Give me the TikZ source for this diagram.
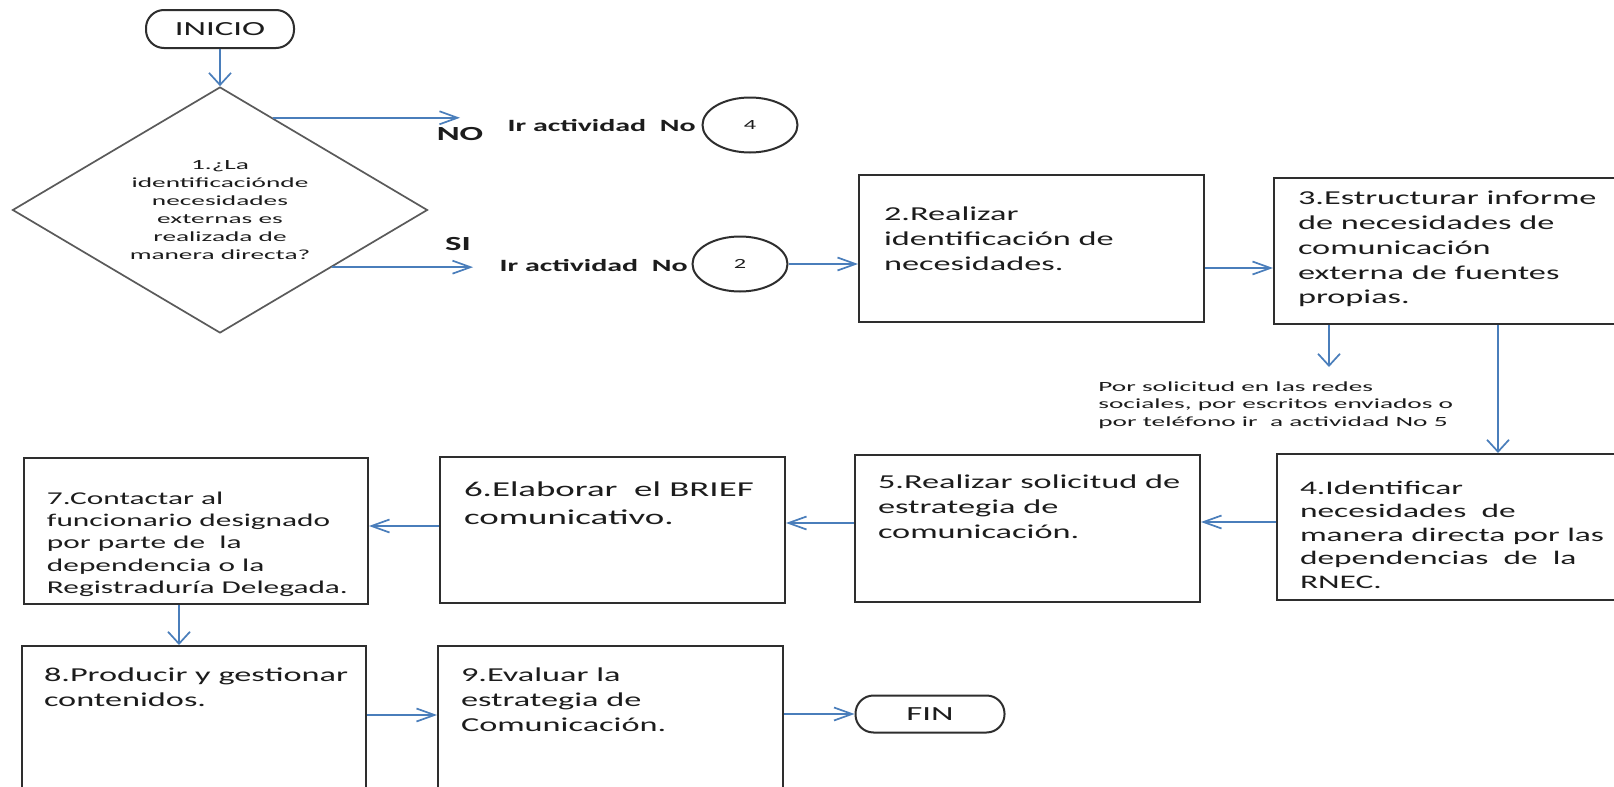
\documentclass[tikz,border=0pt]{standalone}
\usepackage{fontspec}
\setmainfont{Carlito}[FakeStretch=1.74]
\newfontfamily\smallwide{Carlito}[FakeStretch=1.95]
\usetikzlibrary{arrows.meta,shapes.geometric}
\definecolor{arrowblue}{HTML}{4A7EBB}
\definecolor{boxline}{HTML}{2E2E2E}
\definecolor{dline}{HTML}{5A5A5A}
\definecolor{txt}{HTML}{1C1C1C}
\newdimen\pxu \pxu=0.5pt
% #1 width px, #2 height px, #3 left pad px, #4 first baseline px, #5 text
\newcommand{\boxtxt}[5]{\parbox[c][#2\pxu][t]{#1\pxu}{\raggedright\leftskip=#3\pxu\rightskip=-80pt plus 1fil\relax\rule{0pt}{#4\pxu}#5\par}}
\tikzset{
  boxn/.style={draw=boxline, line width=1pt, inner sep=0pt, anchor=north west, text=txt, font=\fontsize{9.85}{12.5}\selectfont},
  term/.style={draw=boxline, line width=1pt, rounded corners=9pt, inner sep=0pt, text=txt, font=\fontsize{10}{12}\selectfont},
  conn/.style={ellipse, draw=boxline, line width=1pt, inner sep=0pt, minimum width=47.5pt, minimum height=27.5pt, text=txt, font=\fontsize{7}{8}\selectfont},
  harr/.style={draw=arrowblue, line width=0.85pt, -{Straight Barb[length=9pt,width=6.5pt]}},
  varr/.style={draw=arrowblue, line width=0.85pt, -{Straight Barb[length=6pt,width=11pt]}},
  irlbl/.style={inner sep=0pt, anchor=base east, text=txt, font=\bfseries\fontsize{8.6}{10}\selectfont},
  yesno/.style={inner sep=0pt, anchor=base, text=txt, font=\bfseries\fontsize{10}{12}\selectfont},
}
\begin{document}
\begin{tikzpicture}[x=0.5pt,y=-0.5pt]
\useasboundingbox (0,0) rectangle (1614,787);
\fill[white] (0,0) rectangle (1614,787);
\clip (0,0) rectangle (1614,787);

% terminals
\node[term, minimum width=74pt, minimum height=19pt] (ini) at (220,29) {INICIO};
\node[term, minimum width=74.5pt, minimum height=18.5pt] (fin) at (930,714) {FIN};

% decision
\node[diamond, aspect=1.69, draw=dline, line width=0.85pt, minimum width=207.5pt, minimum height=123pt, inner sep=0pt, align=center, text=txt, font=\smallwide\fontsize{7}{9}\selectfont] (d) at (220,210)
  {1.¿La\\identificaciónde\\necesidades\\externas es\\realizada de\\manera directa?};

% yes / no labels
\node[yesno] (no) at (460,140) {NO};
\node[yesno] (si) at (458,250) {SI};
\node[irlbl] (ir4) at (696,131) {Ir actividad\ \ No};
\node[irlbl] (ir2) at (688,271) {Ir actividad\ \ No};
\node[conn] (c4) at (750,125) {4};
\node[conn] (c2) at (740,264) {2};

% process boxes
\node[boxn] (b2) at (858,174) {\boxtxt{345}{147}{25}{45}{2.Realizar\\identificación de\\necesidades.}};
\node[boxn] (b3) at (1273,177) {\boxtxt{345}{146}{24}{26}{3.Estructurar informe\\de necesidades de\\comunicación\\externa de fuentes\\propias.}};
\node[boxn, font=\fontsize{9.6}{11.75}\selectfont] (b4) at (1276,453) {\boxtxt{342}{146}{23}{40}{4.Identificar\\necesidades\ \ de\\manera directa por las\\dependencias\ \ de\ \ la\\RNEC.}};
\node[boxn] (b5) at (854,454) {\boxtxt{345}{147}{23}{33}{5.Realizar solicitud de\\estrategia de\\comunicación.}};
\node[boxn, font=\fontsize{10.6}{14}\selectfont] (b6) at (439,456) {\boxtxt{345}{146}{24}{39}{6.Elaborar\ \ el BRIEF\\comunicativo.}};
\node[boxn, font=\fontsize{9}{11.2}\selectfont] (b7) at (23,457) {\boxtxt{344}{146}{23}{46}{7.Contactar al\\funcionario designado\\por parte de\ \ la\\dependencia o la\\Registraduría Delegada.}};
\node[boxn] (b8) at (21,645) {\boxtxt{344}{170}{22}{35}{8.Producir y gestionar\\contenidos.}};
\node[boxn] (b9) at (437,645) {\boxtxt{345}{170}{23}{35}{9.Evaluar la\\estrategia de\\Comunicación.}};

% note
\node[anchor=base west, inner sep=0pt, text=txt, font=\smallwide\fontsize{7}{8.75}\selectfont] (note) at (1098,391)
  {\parbox[t]{190pt}{\raggedright Por solicitud en las redes\\sociales, por escritos enviados o\\por teléfono ir\ \ a actividad No 5}};

% helper coordinates
\coordinate (noend) at (460,0);
\coordinate (siend) at (473,0);
\coordinate (y268) at (0,268);
\coordinate (y522) at (0,522);
\coordinate (y523) at (0,523);
\coordinate (y526) at (0,526);
\coordinate (y715) at (0,715);
\coordinate (x1498) at (1498,0);
\coordinate (x179) at (179,0);
\coordinate (notearr) at (1329,367);

% connectors
\draw[varr] (ini.south) -- (d.north);
\draw[harr] (d.60) -- (d.60 -| noend);
\draw[harr] (d.-27) -- (d.-27 -| siend);
\draw[harr] (c2.east) -- (c2.east -| b2.west);
\draw[harr] (b2.east |- y268) -- (b3.west |- y268);
\draw[varr] (b3.south -| notearr) -- (notearr);
\draw[varr] (b3.south -| x1498) -- (b4.north -| x1498);
\draw[harr] (b4.west |- y522) -- (b5.east |- y522);
\draw[harr] (b5.west |- y523) -- (b6.east |- y523);
\draw[harr] (b6.west |- y526) -- (b7.east |- y526);
\draw[varr] (b7.south -| x179) -- (b8.north -| x179);
\draw[harr] (b8.east |- y715) -- (b9.west |- y715);
\draw[harr] (b9.east |- fin.west) -- (fin.west);
\end{tikzpicture}
\end{document}
